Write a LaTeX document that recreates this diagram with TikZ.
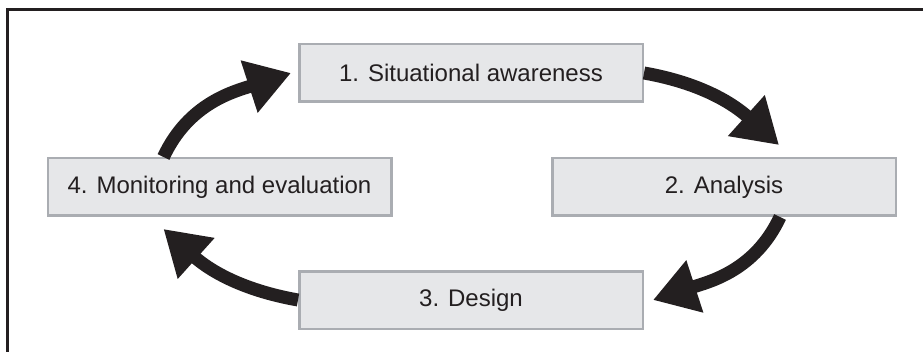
\documentclass[tikz,border=0pt]{standalone}
\usepackage{fontspec}
\setmainfont{Liberation Sans}
\usetikzlibrary{arrows.meta}
\definecolor{boxfill}{RGB}{230,231,233}
\definecolor{boxline}{RGB}{170,173,178}
\definecolor{ink}{RGB}{35,31,32}
\tikzset{
  stage/.style={draw=boxline, fill=boxfill, line width=2.5pt, minimum width=343.5pt,
    minimum height=57.5pt, inner sep=0pt, text=ink, font=\fontsize{24}{28}\selectfont},
  flow/.style={draw=ink, line width=13pt, -{Triangle[length=44pt,width=52pt]}}
}
\begin{document}
\begin{tikzpicture}
        \clip (0,0) rectangle (923pt,351pt);
        \draw [ink, line width=3pt] (7.5pt,-5pt) to (7.5pt,341.5pt) to (930pt,341.5pt);
        \node [stage] (aware) at (471pt,278pt) {1. Situational awareness};
        \node [stage] (analysis) at (724pt,164pt) {2. Analysis};
        \node [stage] (design) at (471pt,51pt) {3. Design};
        \node [stage] (monitor) at (219.5pt,164pt) {4. Monitoring and evaluation};
        \draw [flow] ([xshift=-56pt]monitor.north) to [out=65,in=198] ([xshift=-7pt]aware.west);
        \draw [flow] (aware.east) to [out=-10,in=138] ([xshift=55pt,yshift=12pt]analysis.north);
        \draw [flow] ([xshift=56pt]analysis.south) to [out=245,in=18] ([xshift=9pt]design.east);
        \draw [flow] (design.west) to [out=170,in=-42] ([xshift=-56pt,yshift=-12pt]monitor.south);
\end{tikzpicture}
\end{document}
